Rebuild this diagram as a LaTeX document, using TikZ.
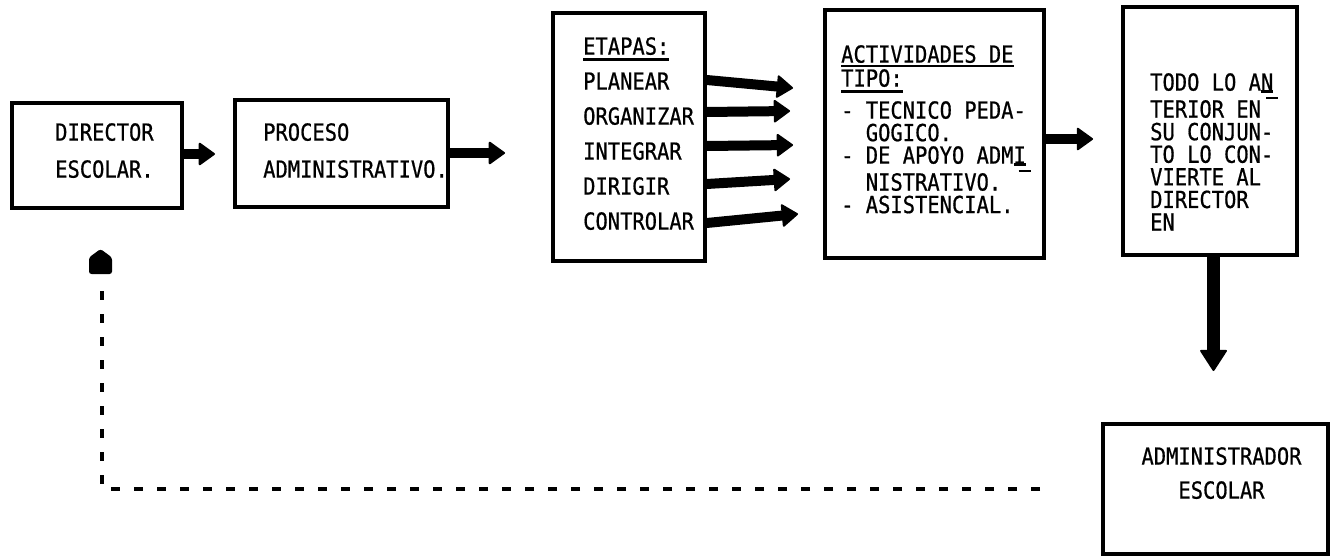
\documentclass[tikz,border=0pt]{standalone}
\usepackage{fontspec}
\newfontfamily\tw[FakeStretch=0.87,FakeBold=0.7]{DejaVu Sans Mono}
\usetikzlibrary{arrows.meta}
\newcommand\twf[1]{\tw\fontsize{23.5bp}{#1}\selectfont}
\newcommand\myul[2][-6bp]{\setbox0=\hbox{#2}\rlap{\rule[#1]{\wd0}{2.4bp}}\box0}
\newcommand\hyp[1]{\setbox0=\hbox{#1}\rlap{\rule[-2bp]{\wd0}{2.2bp}}\rlap{\hspace{5bp}\rule[-8.5bp]{\wd0}{2.2bp}}\box0}
\begin{document}
\begin{tikzpicture}[x=1bp,y=-1bp,
  box/.style={draw, line width=3.4bp, inner sep=0pt},
  txt/.style={inner sep=0pt, anchor=north west, align=left},
  conn/.style={line width=10bp, -{Triangle[width=24bp,length=17bp,line width=2bp,round]}},
  bigconn/.style={line width=13bp, -{Triangle[width=28bp,length=22bp,line width=2bp,round]}},
  dashline/.style={line width=3.6bp, dash pattern=on 9bp off 14bp}]
\useasboundingbox (0,0) rectangle (1332,557);
\fill[white] (0,0) rectangle (1332,557);

% boxes
\node[box, minimum width=170bp, minimum height=105bp] (dir) at (97,155.5) {};
\node[box, minimum width=213bp, minimum height=107bp] (proc) at (341.5,153.5) {};
\node[box, minimum width=152bp, minimum height=248bp] (etapas) at (629,137) {};
\node[box, minimum width=219bp, minimum height=248bp] (act) at (934.5,134) {};
\node[box, minimum width=174bp, minimum height=248bp] (todo) at (1210,131) {};
\node[box, minimum width=225bp, minimum height=130bp] (admin) at (1215.5,489) {};

% texts
\node[txt, font={\twf{37bp}}] (dirT) at (55,123) {DIRECTOR\\ESCOLAR.};
\node[txt, font={\twf{37bp}}] (procT) at (263,123) {PROCESO\\ADMINISTRATIVO.};
\node[txt, font={\twf{35bp}}] (etT) at (583,37) {\myul{ETAPAS:}\\PLANEAR\\ORGANIZAR\\INTEGRAR\\DIRIGIR\\CONTROLAR};
\node[txt, font={\twf{24bp}}] (actH) at (841,45) {\myul[-4.5bp]{ACTIVIDADES DE}\\\myul[-6bp]{TIPO:}};
\node[txt, font={\twf{22.5bp}}] (actL) at (841,101) {- TECNICO PEDA-\\\phantom{- }GOGICO.\\- DE APOYO ADM\hyp{I}\\\phantom{- }NISTRATIVO.\\- ASISTENCIAL.};
\node[txt, font={\twf{22.6bp}}] (todoT) at (1150,73) {TODO LO A\hyp{N}\\TERIOR EN\\SU CONJUN-\\TO LO CON-\\VIERTE AL\\DIRECTOR\\EN};
\node[inner sep=0pt, anchor=north, align=center, font={\twf{34bp}}] (adminT) at (1221.5,447) {ADMINISTRADOR\\ESCOLAR};

% coordinates
\coordinate (a1e) at (215,154);
\coordinate (a2e) at (505,153);
\coordinate (s1) at (0,80);  \coordinate (e1) at (793,88);
\coordinate (s2) at (0,112); \coordinate (e2) at (790,111);
\coordinate (s3) at (0,146); \coordinate (e3) at (793,145);
\coordinate (s4) at (0,184); \coordinate (e4) at (790,179);
\coordinate (s5) at (0,223); \coordinate (e5) at (798,214);
\coordinate (a4e) at (1093,139);
\coordinate (dne) at (1213.5,371);
\coordinate (ds) at (1040,489);
\coordinate (dc) at (102,489);
\coordinate (de) at (102,288);
\coordinate (pt) at (100.5,261.5);

% connectors
\draw[conn] (dir.east |- a1e) -- (a1e);
\draw[conn] (proc.east |- a2e) -- (a2e);
\draw[conn] (etapas.east |- s1) -- (e1);
\draw[conn] (etapas.east |- s2) -- (e2);
\draw[conn] (etapas.east |- s3) -- (e3);
\draw[conn] (etapas.east |- s4) -- (e4);
\draw[conn] (etapas.east |- s5) -- (e5);
\draw[conn] (act.east |- a4e) -- (a4e);
\draw[bigconn] (todo.south -| dne) -- (dne);

% dashed feedback line
\draw[dashline] (ds) -- (dc) -- (de);
\fill[shift={(pt)}, rounded corners=2.5bp] (-11.5,12.5) -- (-11.5,-4) -- (0,-12.5) -- (11.5,-4) -- (11.5,12.5) -- cycle;
\end{tikzpicture}
\end{document}
